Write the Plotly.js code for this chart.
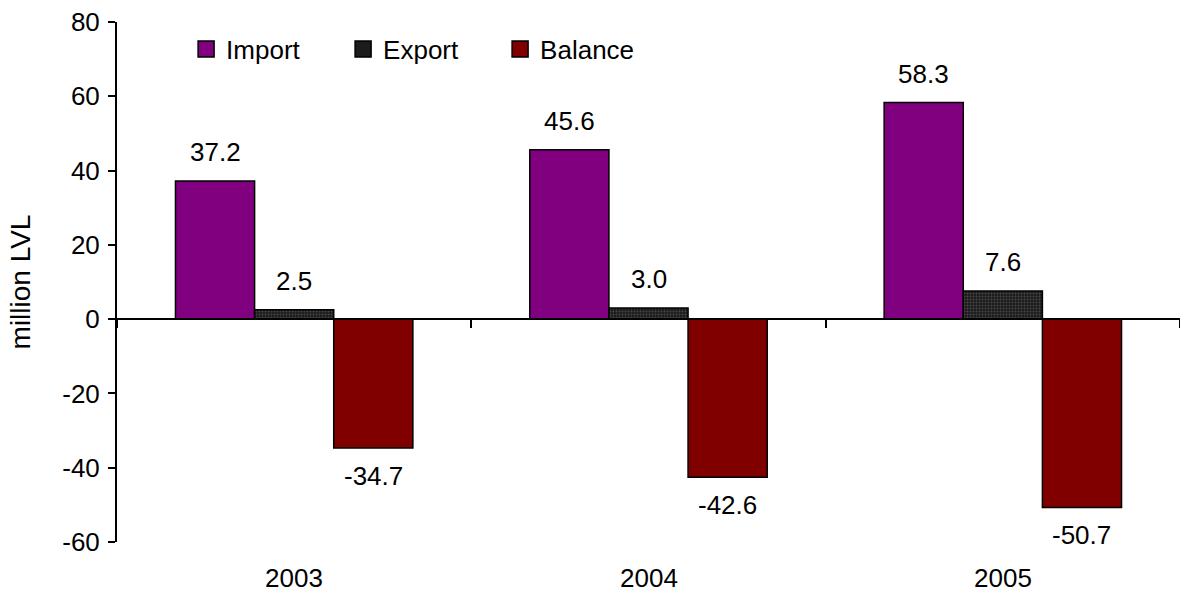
<!DOCTYPE html>
<html>
<head>
<meta charset="utf-8">
<script src="https://cdn.plot.ly/plotly-3.0.1.min.js"></script>
<style>html,body{margin:0;padding:0;background:#fff;}#chart{width:1180px;height:593px;}</style>
</head>
<body>
<div id="chart"></div>
<script>
const years = ['2003', '2004', '2005'];
const importValues = [37.2, 45.6, 58.3];
const exportValues = [2.5, 3.0, 7.6];
const balanceValues = [-34.7, -42.6, -50.7];
const seriesNames = ['Import', 'Export', 'Balance'];
const yTicks = [-60, -40, -20, 0, 20, 40, 60, 80];
const yTitle = 'million LVL';

const FONT = 'Liberation Sans, Arial, sans-serif';
const FS = 26;
const yMin = -60, yMax = 80;
const bargap = 0.33;
const colors = ['#800080', '#1c1c1c', '#800000'];

const traces = [
  {type: 'bar', name: seriesNames[0], x: years, y: importValues, showlegend: false,
   marker: {color: colors[0], line: {color: '#000', width: 1.5}}},
  {type: 'bar', name: seriesNames[1], x: years, y: exportValues, showlegend: false,
   marker: {color: colors[1], line: {color: '#000', width: 1.5},
            pattern: {shape: '.', fgcolor: '#484848', bgcolor: '#1a1a1a', size: 3, solidity: 0.35}}},
  {type: 'bar', name: seriesNames[2], x: years, y: balanceValues, showlegend: false,
   marker: {color: colors[2], line: {color: '#000', width: 1.5}}}
];
// legend entries (larger square keys)
seriesNames.forEach((n, k) => {
  traces.push({type: 'scatter', mode: 'markers', name: n, x: [null], y: [null],
    marker: {symbol: 'square', size: 18, color: colors[k], line: {color: '#000', width: 1.5}},
    hoverinfo: 'skip'});
});

const allSeries = [importValues, exportValues, balanceValues];
const w = (1 - bargap) / allSeries.length;
const annotations = [];
allSeries.forEach((vals, k) => {
  vals.forEach((v, i) => {
    annotations.push({
      xref: 'x', yref: 'y', x: i + (k - (allSeries.length - 1) / 2) * w, y: v,
      text: v.toFixed(1), showarrow: false, yanchor: 'middle',
      yshift: v >= 0 ? 29 : -28,
      font: {family: FONT, size: FS, color: '#000'}
    });
  });
});
years.forEach((yr, i) => {
  annotations.push({
    xref: 'x', yref: 'paper', x: i, y: 0, yanchor: 'middle', yshift: -36,
    text: yr, showarrow: false, font: {family: FONT, size: FS, color: '#000'}
  });
});

const layout = {
  width: 1180, height: 593,
  margin: {l: 117, r: 0, t: 22, b: 51, pad: 0},
  paper_bgcolor: '#fff', plot_bgcolor: '#fff',
  font: {family: FONT, size: FS, color: '#000'},
  barmode: 'group', bargap: bargap, bargroupgap: 0,
  showlegend: true,
  legend: {orientation: 'h', x: 0.065, xanchor: 'left', y: 0.948, yanchor: 'middle',
           entrywidth: 112, entrywidthmode: 'pixels',
           font: {family: FONT, size: FS, color: '#000'}, bgcolor: 'rgba(0,0,0,0)'},
  xaxis: {type: 'category', range: [-0.5, years.length - 0.5], anchor: 'free',
          position: (0 - yMin) / (yMax - yMin),
          showline: true, linecolor: '#000', linewidth: 2,
          ticks: 'outside', tickson: 'boundaries', ticklen: 8, tickwidth: 2, tickcolor: '#000',
          showticklabels: false, showgrid: false, zeroline: false, fixedrange: true},
  yaxis: {range: [yMin, yMax], tickmode: 'array', tickvals: yTicks, ticktext: yTicks.map(String),
          showline: true, linecolor: '#000', linewidth: 2,
          ticks: 'outside', ticklen: 7, tickwidth: 2, tickcolor: '#000', ticklabelstandoff: 3,
          showgrid: false, zeroline: false, automargin: false,
          tickfont: {family: FONT, size: FS, color: '#000'},
          title: {text: yTitle, standoff: 23, font: {family: FONT, size: 28, color: '#000'}}},
  annotations: annotations
};

Plotly.newPlot('chart', traces, layout, {displayModeBar: false, staticPlot: true});
</script>
</body>
</html>
